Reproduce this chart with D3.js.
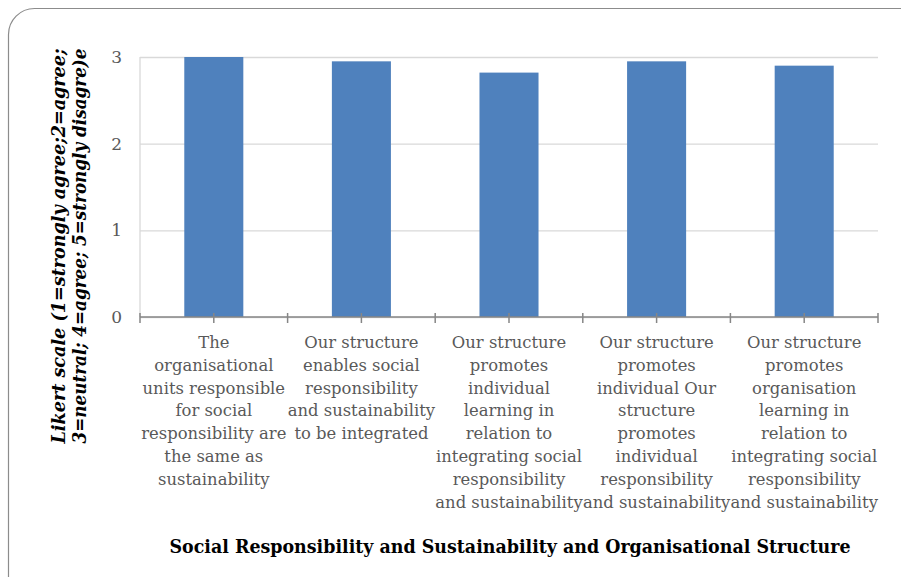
<!DOCTYPE html>
<html>
<head>
<meta charset="utf-8">
<script src="https://cdn.jsdelivr.net/npm/d3@7"></script>
<style>
  body { margin: 0; background: #fff; }
  svg { display: block; }
</style>
</head>
<body>
<div id="chart"></div>
<script>
// categories (tick labels, already wrapped like the original)
const categories = ["c1", "c2", "c3", "c4", "c5"];
const categoryLines = [
    ["The", "organisational", "units responsible", "for social", "responsibility are", "the same as", "sustainability"],
    ["Our structure", "enables social", "responsibility", "and sustainability", "to be integrated"],
    ["Our structure", "promotes", "individual", "learning in", "relation to", "integrating social", "responsibility", "and sustainability"],
    ["Our structure", "promotes", "individual Our", "structure", "promotes", "individual", "responsibility", "and sustainability"],
    ["Our structure", "promotes", "organisation", "learning in", "relation to", "integrating social", "responsibility", "and sustainability"]
];
const values = [3.0, 2.95, 2.82, 2.95, 2.90];
const yTicks = [0, 1, 2, 3];
const yTitle = ["Likert scale (1=strongly agree;2=agree;", "3=neutral; 4=agree; 5=strongly disagre)e"];
const xTitle = "Social Responsibility and Sustainability and Organisational Structure";

// set the dimensions and margins of the graph
let W = 901, H = 577;
let margin = { top: 57, right: 23, bottom: 260, left: 140 },
    width = W - margin.left - margin.right,
    height = H - margin.top - margin.bottom;

let svg = d3.select("#chart")
    .append("svg")
    .attr("width", W)
    .attr("height", H);

// rounded frame
svg.append("rect")
    .attr("x", 8.5).attr("y", 8.5)
    .attr("width", 920).attr("height", 600)
    .attr("rx", 26).attr("ry", 26)
    .attr("fill", "none")
    .attr("stroke", "#8c8c8c")
    .attr("stroke-width", 1.2);

let g = svg.append("g")
    .attr("transform", "translate(" + margin.left + "," + margin.top + ")");

// scales
let x = d3.scaleBand()
    .domain(categories)
    .range([0, width])
    .paddingInner(0.6)
    .paddingOuter(0.3);

let y = d3.scaleLinear()
    .domain([0, 3])
    .range([height, 0]);

// Y axis + gridlines
let yAxis = g.append("g")
    .call(d3.axisLeft(y).tickValues(yTicks).tickSize(-width).tickPadding(18).tickFormat(d3.format("d")));
yAxis.select(".domain").remove();
yAxis.selectAll("line")
    .attr("stroke", "#d9d9d9")
    .attr("stroke-width", 1.3);
yAxis.selectAll("text")
    .attr("fill", "#595959")
    .style("font", "17px 'DejaVu Serif'");

// left vertical light line
g.append("line")
    .attr("x1", 0).attr("x2", 0)
    .attr("y1", 0).attr("y2", height)
    .attr("stroke", "#d9d9d9")
    .attr("stroke-width", 1.3);

// bars
g.append("g")
    .selectAll("rect")
    .data(values)
    .enter()
    .append("rect")
    .attr("x", (d, i) => x(categories[i]))
    .attr("y", d => y(d))
    .attr("width", x.bandwidth())
    .attr("height", d => height - y(d))
    .attr("fill", "#4f81bd");

// X axis line and ticks (centers + boundaries)
let step = x.step();
let bounds = categories.map(c => x(c) - step * 0.3).concat([width]);
let centers = categories.map(c => x(c) + x.bandwidth() / 2);
let xAxis = g.append("g").attr("transform", "translate(0," + height + ")");
xAxis.append("line")
    .attr("x1", 0).attr("x2", width)
    .attr("stroke", "#868686")
    .attr("stroke-width", 1.5);
xAxis.selectAll(".tk")
    .data(bounds.concat(centers))
    .enter()
    .append("line")
    .attr("x1", d => d).attr("x2", d => d)
    .attr("y1", -4).attr("y2", 6)
    .attr("stroke", "#868686")
    .attr("stroke-width", 1.5);

// category labels
let labels = g.append("g")
    .selectAll("text")
    .data(categoryLines)
    .enter()
    .append("text")
    .attr("text-anchor", "middle")
    .attr("fill", "#595959")
    .style("font", "16.4px 'DejaVu Serif'")
    .attr("transform", (d, i) => "translate(" + centers[i] + "," + (height + 31) + ")");
labels.selectAll("tspan")
    .data(d => d)
    .enter()
    .append("tspan")
    .attr("x", 0)
    .attr("y", (d, i) => i * 22.8)
    .text(d => d);

// y axis title (two lines, rotated)
svg.append("g")
    .selectAll("text")
    .data(yTitle)
    .enter()
    .append("text")
    .attr("transform", (d, i) => "translate(" + (65 + i * 21) + ",246) rotate(-90)")
    .attr("text-anchor", "middle")
    .attr("fill", "#000")
    .style("font", "bold italic 18px 'DejaVu Serif'")
    .attr("textLength", 395)
    .attr("lengthAdjust", "spacingAndGlyphs")
    .text(d => d);

// x axis title
svg.append("text")
    .attr("x", 510)
    .attr("y", 553)
    .attr("text-anchor", "middle")
    .attr("fill", "#000")
    .style("font", "bold 18px 'DejaVu Serif'")
    .attr("textLength", 681)
    .attr("lengthAdjust", "spacingAndGlyphs")
    .text(xTitle);
</script>
</body>
</html>
